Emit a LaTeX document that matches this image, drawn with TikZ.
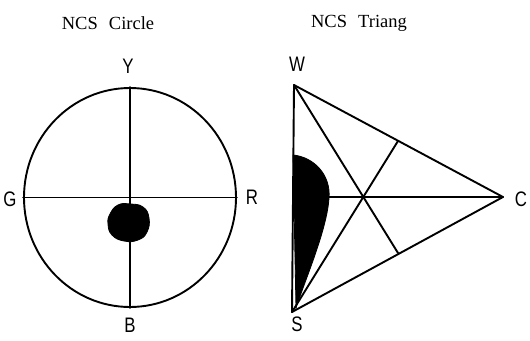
\documentclass[tikz,border=0pt]{standalone}
\usepackage{fontspec}
\usepackage{graphicx}
\usetikzlibrary{shapes.geometric}
\setmainfont{Liberation Serif}
\newfontfamily\lblfont{Liberation Sans}
\newcommand{\lbltxt}[1]{\scalebox{0.8}[1]{#1}}
\begin{document}
\begin{tikzpicture}[x=1pt,y=-1pt,
  ln/.style={line width=1.9pt,line join=round,line cap=round},
  title/.style={font=\fontsize{18.5}{20}\selectfont,inner sep=0pt},
  lbl/.style={font=\lblfont\fontsize{21}{22}\selectfont,inner sep=0pt},
  blob/.style={fill=black,draw=black,line width=0.8pt}]
\useasboundingbox (0,0) rectangle (530,340);
% titles
\node[title] (t1) at (108,23) {NCS\hspace{0.6em}Circle};
\node[title] (t2) at (359,23) {NCS\hspace{0.6em}Triang};
% circle
\node[draw,ln,ellipse,minimum width=212pt,minimum height=219pt,inner sep=0pt] (circ) at (130,197.5) {};
\coordinate (ctop) at (circ.north);
\coordinate (cbot) at (circ.south);
\coordinate (cleft) at (circ.west);
\coordinate (cright) at (circ.east);
\draw[ln] (ctop) -- (cbot);
\draw[ln] (cleft) -- (cright);
\node[lbl] (Y) at (128,66) {\lbltxt{Y}};
\node[lbl] (G) at (10,199) {\lbltxt{G}};
\node[lbl] (R) at (252,197) {\lbltxt{R}};
\node[lbl] (B) at (130,325) {\lbltxt{B}};
% blob in circle
\fill[blob] plot[smooth cycle,tension=0.8] coordinates {(110,214) (118,205) (130,204) (143,207) (149,218) (147,232) (138,240) (124,241) (112,235) (108,224)};
% triangle
\coordinate (Wv) at (294,85);
\coordinate (Sv) at (292,312);
\coordinate (Cv) at (503,197);
\coordinate (mWS) at (293,197);
\coordinate (mSC) at (398,253);
\coordinate (mWC) at (398,141);
\fill[blob] (293,155) .. controls (314,157) and (331,175) .. (329,198) .. controls (327,230) and (305,280) .. (296,308) -- cycle;
\draw[ln] (Wv) -- (Cv) -- (Sv) -- cycle;
\draw[ln] (Wv) -- (mSC);
\draw[ln] (Sv) -- (mWC);
\draw[ln] (Cv) -- (mWS);
\node[lbl] (W) at (297,64) {\lbltxt{W}};
\node[lbl] (S) at (297,324) {\lbltxt{S}};
\node[lbl] (C) at (521,199) {\lbltxt{C}};
\end{tikzpicture}
\end{document}
